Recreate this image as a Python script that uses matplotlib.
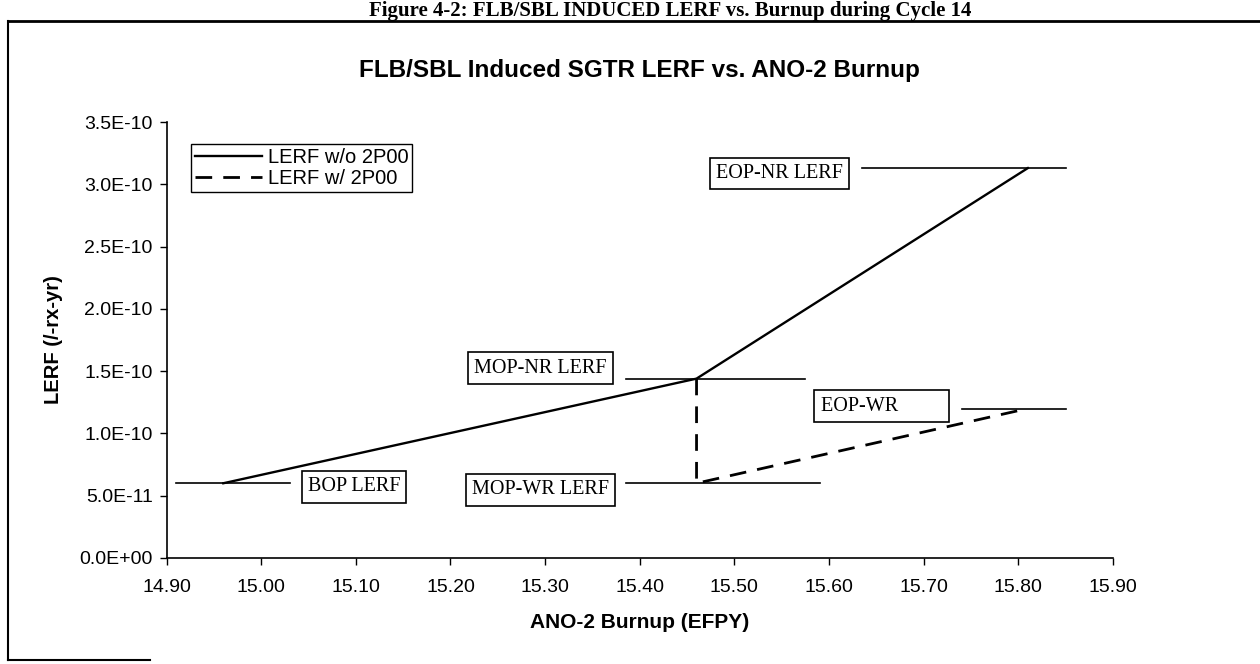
import matplotlib
matplotlib.use("Agg")
import matplotlib.pyplot as plt
from matplotlib.lines import Line2D

# ---- data ----
burnup_nr = [14.96, 15.46, 15.81]
lerf_nr = [6.0e-11, 1.44e-10, 3.13e-10]

burnup_wr = [15.46, 15.46, 15.81]
lerf_wr = [1.44e-10, 6.0e-11, 1.20e-10]

series_labels = ["LERF w/o 2P00", "LERF w/ 2P00"]

# reference (horizontal) level lines
ref_names = ["BOP LERF", "MOP-NR LERF", "MOP-WR LERF", "EOP-NR LERF", "EOP-WR         "]
ref_levels = [6.0e-11, 1.44e-10, 6.0e-11, 3.13e-10, 1.20e-10]
ref_x_start = [14.91, 15.385, 15.385, 15.635, 15.74]
ref_x_end = [15.03, 15.575, 15.59, 15.85, 15.85]
# label anchor positions (data coords)
lab_x = [15.098, 15.295, 15.295, 15.548, 15.591]
lab_y = [5.7e-11, 1.525e-10, 5.46e-11, 3.09e-10, 1.2e-10 + 0.2e-11]
lab_ha = ["center", "center", "center", "center", "left"]

x_ticks = [14.90, 15.00, 15.10, 15.20, 15.30, 15.40, 15.50, 15.60, 15.70, 15.80, 15.90]
y_ticks = [0.0, 5.0e-11, 1.0e-10, 1.5e-10, 2.0e-10, 2.5e-10, 3.0e-10, 3.5e-10]

title = "FLB/SBL Induced SGTR LERF vs. ANO-2 Burnup"
xlabel = "ANO-2 Burnup (EFPY)"
ylabel = "LERF (/-rx-yr)"
page_caption = "Figure 4-2: FLB/SBL INDUCED LERF vs. Burnup during Cycle 14"

# ---- figure ----
W, H = 1260, 664
fig = plt.figure(figsize=(W / 100, H / 100), dpi=100)
plt.rcParams['font.family'] = ['Liberation Sans', 'DejaVu Sans']

ax = fig.add_axes([166.5 / W, 1 - 558 / H, (1113 - 166.5) / W, (558 - 122) / H])

ax.plot(burnup_nr, lerf_nr, color="black", lw=1.7, label=series_labels[0])
ax.plot(burnup_wr, lerf_wr, color="black", lw=2.0, linestyle=(0, (6, 4)), label=series_labels[1])

for i, name in enumerate(ref_names):
    ax.plot([ref_x_start[i], ref_x_end[i]], [ref_levels[i], ref_levels[i]], color="black", lw=1.2)
    ax.text(lab_x[i], lab_y[i], name, ha=lab_ha[i], va="center",
            family=["Liberation Serif", "DejaVu Serif"], fontsize=14.5,
            bbox=dict(boxstyle="square,pad=0.3", facecolor="white", edgecolor="black", lw=1.2))

ax.set_xlim(14.90, 15.90)
ax.set_ylim(0, 3.5e-10)
ax.set_xticks(x_ticks)
ax.set_xticklabels([f"{v:.2f}" for v in x_ticks])
ax.set_yticks(y_ticks)
ax.set_yticklabels([f"{v:.1E}" for v in y_ticks])
ax.tick_params(axis="both", direction="out", length=5, width=1, labelsize=14)
ax.tick_params(axis="x", pad=10)
ax.tick_params(axis="y", pad=5)
for s in ["top", "right"]:
    ax.spines[s].set_visible(False)
for s in ["left", "bottom"]:
    ax.spines[s].set_linewidth(1.2)

ax.set_xlabel(xlabel, fontsize=15, fontweight="bold", labelpad=12)
ax.set_ylabel(ylabel, fontsize=14.5, fontweight="bold", labelpad=12)

leg = ax.legend(loc="upper left", bbox_to_anchor=(0.026, 0.95), borderaxespad=0,
                fancybox=False, edgecolor="black", framealpha=1, fontsize=14.5,
                handlelength=3.3, labelspacing=0.1, borderpad=0.2, handletextpad=0.3)
leg.get_frame().set_linewidth(1.0)

fig.text(0.5 * (166.5 + 1113) / W, 1 - 70 / H, title, ha="center", va="center",
         fontsize=17.5, fontweight="bold")

# page caption above the frame
fig.text(670 / W, 1 - 16 / H, page_caption, ha="center", va="baseline",
         family=["Liberation Serif", "DejaVu Serif"], fontsize=15, fontweight="bold")

# outer frame of the scanned figure
fig.add_artist(Line2D([8 / W, 1.0], [1 - 21 / H, 1 - 21 / H], color="black", lw=2))
fig.add_artist(Line2D([8 / W, 8 / W], [1 - 21 / H, 1 - 660 / H], color="black", lw=1.5))
fig.add_artist(Line2D([8 / W, 150 / W], [1 - 660 / H, 1 - 660 / H], color="black", lw=1.5))

fig.savefig("out.png", dpi=100)
